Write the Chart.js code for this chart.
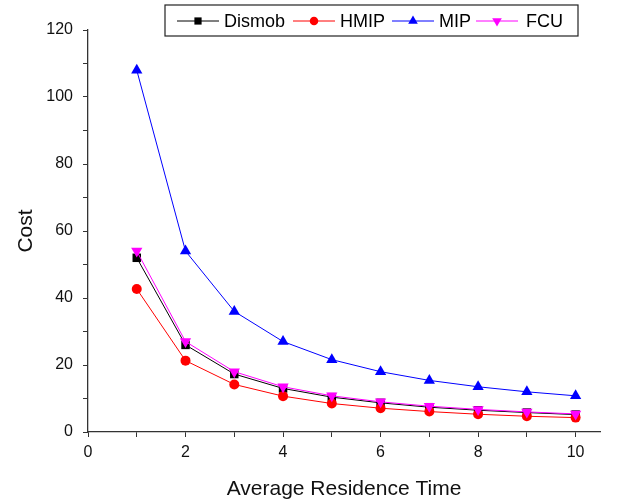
<!DOCTYPE html>
<html>
<head>
<meta charset="utf-8">
<script src="https://cdn.jsdelivr.net/npm/chart.js@4.4.0/dist/chart.umd.min.js"></script>
<style>
  html, body { margin: 0; padding: 0; background: #fff; }
  #wrap { width: 633px; height: 500px; position: relative; }
</style>
</head>
<body>
<div id="wrap"><canvas id="costChart" width="633" height="500"></canvas></div>
<script>
const residenceTimes = [1, 2, 3, 4, 5, 6, 7, 8, 9, 10];
const dismobCost = [52, 26, 17.3, 13, 10.4, 8.7, 7.4, 6.5, 5.8, 5.2];
const hmipCost = [42.7, 21.3, 14.2, 10.7, 8.5, 7.1, 6.1, 5.3, 4.7, 4.3];
const mipCost = [108, 54, 36, 27, 21.6, 18, 15.4, 13.5, 12, 10.8];
const fcuCost = [54, 27, 18, 13.5, 10.8, 9, 7.7, 6.75, 6, 5.4];

const font = "'Liberation Sans', Arial, sans-serif";
const axisColor = '#333333';

function toPoints(values) {
    return residenceTimes.map((t, i) => ({ x: t, y: values[i] }));
}

const series = [
    { label: 'Dismob', data: dismobCost, color: '#000000', style: 'rect', radius: 6, rotation: 0, order: 3 },
    { label: 'HMIP', data: hmipCost, color: '#ff0000', style: 'circle', radius: 5, rotation: 0, order: 2 },
    { label: 'MIP', data: mipCost, color: '#0000ff', style: 'triangle', radius: 6.5, rotation: 0, order: 1 },
    { label: 'FCU', data: fcuCost, color: '#ff00ff', style: 'triangle', radius: 6.5, rotation: 180, order: 0 }
];

// legend box drawn on the canvas: line sample with marker, like the original
const boxLegend = {
    id: 'boxLegend',
    afterDraw(chart) {
        const c = chart.ctx;
        const left = 165, top = 5, right = 578, bottom = 36;
        c.save();
        c.strokeStyle = '#222';
        c.lineWidth = 1.2;
        c.strokeRect(left, top, right - left, bottom - top);
        const items = [
            { x: 177, textX: 224 },
            { x: 293, textX: 340 },
            { x: 392, textX: 439 },
            { x: 476, textX: 526 }
        ];
        const midY = 21;
        c.font = '18px ' + font;
        c.textBaseline = 'middle';
        series.forEach((s, i) => {
            const it = items[i];
            c.strokeStyle = s.color;
            c.lineWidth = 1;
            c.beginPath();
            c.moveTo(it.x, midY);
            c.lineTo(it.x + 42, midY);
            c.stroke();
            c.fillStyle = s.color;
            Chart.helpers.drawPoint(c, { pointStyle: s.style, radius: s.radius * 0.85, rotation: s.rotation, borderWidth: 0 }, it.x + 21, midY);
            c.fillStyle = '#000';
            c.fillText(s.label, it.textX, midY + 1);
        });
        c.restore();
    }
};

const ctx = document.getElementById('costChart').getContext('2d');
const chart = new Chart(ctx, {
    type: 'line',
    data: {
        datasets: series.map(s => ({
            label: s.label,
            data: toPoints(s.data),
            borderColor: s.color,
            backgroundColor: s.color,
            borderWidth: 1,
            pointStyle: s.style,
            pointRadius: s.radius,
            pointRotation: s.rotation,
            pointBorderWidth: 0,
            tension: 0,
            order: s.order
        }))
    },
    plugins: [boxLegend],
    options: {
        responsive: false,
        animation: false,
        layout: { padding: { top: 30, right: 33, left: 0, bottom: 0 } },
        plugins: {
            legend: { display: false },
            tooltip: { enabled: false }
        },
        scales: {
            x: {
                type: 'linear',
                min: 0,
                max: 10.5,
                afterBuildTicks(scale) {
                    scale.ticks = [0, 1, 2, 3, 4, 5, 6, 7, 8, 9, 10].map(v => ({ value: v }));
                },
                afterFit(scale) { scale.height = 68; },
                grid: { drawOnChartArea: false, tickLength: 5, color: axisColor },
                border: { color: axisColor, width: 1.3 },
                ticks: {
                    autoSkip: false,
                    maxRotation: 0,
                    padding: 6,
                    color: '#111',
                    font: { family: font, size: 16 },
                    callback: v => (v % 2 === 0 ? v : '')
                },
                title: {
                    display: true,
                    text: 'Average Residence Time',
                    color: '#111',
                    font: { family: font, size: 21 },
                    padding: { top: 4, bottom: -2 }
                }
            },
            y: {
                min: 0,
                max: 120,
                afterBuildTicks(scale) {
                    const t = [];
                    for (let v = 0; v <= 120; v += 10) t.push({ value: v });
                    scale.ticks = t;
                },
                afterFit(scale) { scale.width = 88; },
                grid: { drawOnChartArea: false, tickLength: 5, color: axisColor },
                border: { color: axisColor, width: 1.3 },
                ticks: {
                    autoSkip: false,
                    padding: 10,
                    color: '#111',
                    font: { family: font, size: 16 },
                    callback: v => (v % 20 === 0 ? v : '')
                },
                title: {
                    display: true,
                    text: 'Cost',
                    color: '#111',
                    font: { family: font, size: 21 },
                    padding: { top: 14, bottom: 0 }
                }
            }
        }
    }
});
</script>
</body>
</html>
